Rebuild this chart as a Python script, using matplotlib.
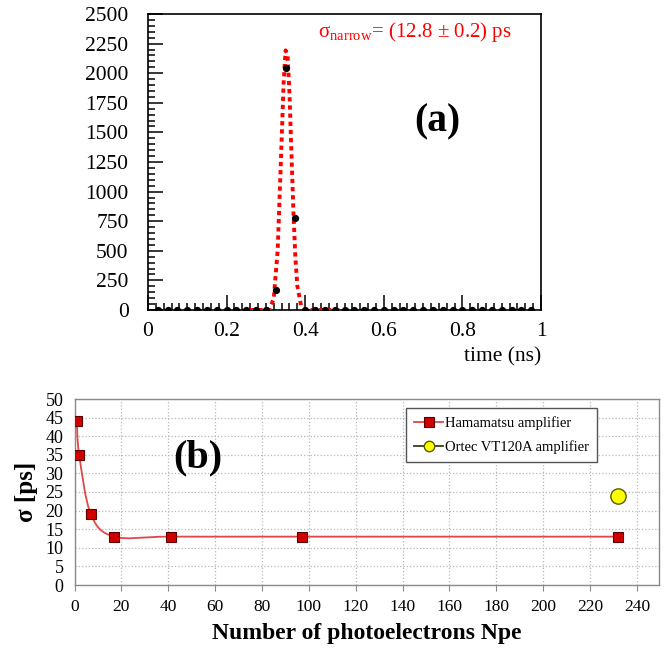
import matplotlib
matplotlib.use("Agg")
import matplotlib.pyplot as plt
from matplotlib.path import Path
from matplotlib.patches import PathPatch
from matplotlib.lines import Line2D
from matplotlib.ticker import MultipleLocator

plt.rcParams['font.family'] = ['Liberation Serif', 'DejaVu Serif']
plt.rcParams['mathtext.fontset'] = 'custom'
plt.rcParams['mathtext.rm'] = 'Liberation Serif'
plt.rcParams['mathtext.it'] = 'Liberation Serif:italic'

# (a) time histogram: bin centres (ns) and counts
bin_t = [0.025 * k for k in range(1, 40)]
counts = [0] * 39
counts[12] = 170    # 0.325 ns
counts[13] = 2040   # 0.350 ns
counts[14] = 780    # 0.375 ns

# (a) fitted narrow gaussian
fit_t = [0.26, 0.28, 0.30, 0.31, 0.32, 0.33, 0.34, 0.345, 0.35, 0.355,
         0.36, 0.365, 0.37, 0.375, 0.38, 0.39, 0.40, 0.42, 0.44, 0.46, 0.48, 0.50]
fit_y = [0, 0, 1, 10, 98, 505, 1430, 1910, 2193, 2160,
         1827, 1325, 826, 442, 203, 27, 2, 0, 0, 0, 0, 0]

# (b) resolution vs number of photoelectrons
npe_hama = [1, 2, 7, 17, 41, 97, 232]
sigma_hama = [44, 35, 19, 13, 13, 13, 13]
npe_ortec = [232]
sigma_ortec = [24]

fig = plt.figure(figsize=(6.65, 6.53), dpi=100)

# ---------------- panel (a) ----------------
ax1 = fig.add_axes([148/665, 1 - 310/653, 393/665, 296/653])
ax1.plot(fit_t, fit_y, color='#ff0000', lw=2.8, linestyle=(0, (1.1, 1.0)), zorder=3)
ax1.plot(bin_t, counts, 'o', color='black', ms=4.2, zorder=4)
ax1.set_xlim(0, 1)
ax1.set_ylim(0, 2500)
ax1.xaxis.set_major_locator(MultipleLocator(0.2))
ax1.xaxis.set_minor_locator(MultipleLocator(0.02))
ax1.yaxis.set_major_locator(MultipleLocator(250))
ax1.yaxis.set_minor_locator(MultipleLocator(50))
ax1.xaxis.set_major_formatter(plt.FuncFormatter(lambda v, p: '%g' % round(v, 2)))
ax1.tick_params(which='both', direction='in', top=False, right=False, width=1.1)
ax1.tick_params(which='major', length=10.5)
ax1.tick_params(which='minor', length=5)
ax1.tick_params(axis='x', which='major', labelsize=15.5, pad=9)
ax1.tick_params(axis='y', which='major', labelsize=15.5, pad=14)
for s in ax1.spines.values():
    s.set_linewidth(1.2)
ax1.text(0.433, 0.94, 'σ$_{\\mathrm{narrow}}$= (12.8 ± 0.2) ps',
         transform=ax1.transAxes, color='#ff0000', fontsize=15, va='center', ha='left')
ax1.text(0.735, 0.635, '(a)', transform=ax1.transAxes, fontsize=28.5,
         fontweight='bold', ha='center', va='center')
fig.text(541/665, 1 - 357/653, 'time (ns)', ha='right', va='center', fontsize=15.5)

# ---------------- panel (b) ----------------
ax2 = fig.add_axes([74.5/665, 1 - 585/653, 584.5/665, 186/653])
ax2.set_xlim(0, 249.4)
ax2.set_ylim(0, 50)
ax2.xaxis.set_major_locator(MultipleLocator(20))
ax2.yaxis.set_major_locator(MultipleLocator(5))
ax2.grid(True, color='#b8b8b8', linestyle=':', linewidth=0.9)
ax2.set_axisbelow(True)
for s in ax2.spines.values():
    s.set_color('#8a8a8a')
    s.set_linewidth(1.0)
ax2.tick_params(axis='x', length=4, color='#8a8a8a', labelsize=12.5, pad=6)
ax2.tick_params(axis='y', length=0, labelsize=13, pad=8)

# smoothed line (Excel-style bezier through the points)
pts = list(zip(npe_hama, sigma_hama))
verts = [pts[0]]
codes = [Path.MOVETO]
for i in range(len(pts) - 1):
    p0 = pts[i - 1] if i > 0 else pts[i]
    p1 = pts[i]
    p2 = pts[i + 1]
    p3 = pts[i + 2] if i + 2 < len(pts) else pts[i + 1]
    c1 = (p1[0] + (p2[0] - p0[0]) / 6, p1[1] + (p2[1] - p0[1]) / 6)
    c2 = (p2[0] - (p3[0] - p1[0]) / 6, p2[1] - (p3[1] - p1[1]) / 6)
    verts += [c1, c2, p2]
    codes += [Path.CURVE4] * 3
ax2.add_patch(PathPatch(Path(verts, codes), facecolor='none',
                        edgecolor='#e04848', lw=1.3, zorder=3))

ax2.plot(npe_hama, sigma_hama, linestyle='none',
         marker='s', ms=7.8, mfc='#d00000', mec='#5a0000', mew=0.8, zorder=4)
ax2.plot(npe_ortec, sigma_ortec, linestyle='none',
         marker='o', ms=11, mfc='#ffff00', mec='#5a5a00', mew=1.0, zorder=4)

handles = [
    Line2D([], [], color='#e04848', lw=1.3, marker='s', ms=6.5,
           mfc='#d00000', mec='#5a0000', mew=0.8),
    Line2D([], [], color='#3a3a1a', lw=1.3, marker='o', ms=7.5,
           mfc='#ffff00', mec='#5a5a00', mew=1.0),
]
labels = ['Hamamatsu amplifier', 'Ortec VT120A amplifier']
leg = ax2.legend(handles, labels, loc='upper left', bbox_to_anchor=(0.567, 0.952),
                 borderaxespad=0, fontsize=10.5, frameon=True, fancybox=False,
                 edgecolor='#555555', framealpha=1, handlelength=2.0,
                 handletextpad=0.1, labelspacing=0.7, borderpad=0.55)
leg.get_frame().set_linewidth(1.0)
fig.text(198/665, 1 - 458/653, '(b)', fontsize=29, fontweight='bold',
         ha='center', va='center')

ax2.set_xlabel('Number of photoelectrons Npe', fontsize=17, fontweight='bold', labelpad=6)
ax2.set_ylabel('σ [ps]', fontsize=18, fontweight='bold', labelpad=5)

fig.savefig('out.png', dpi=100)
